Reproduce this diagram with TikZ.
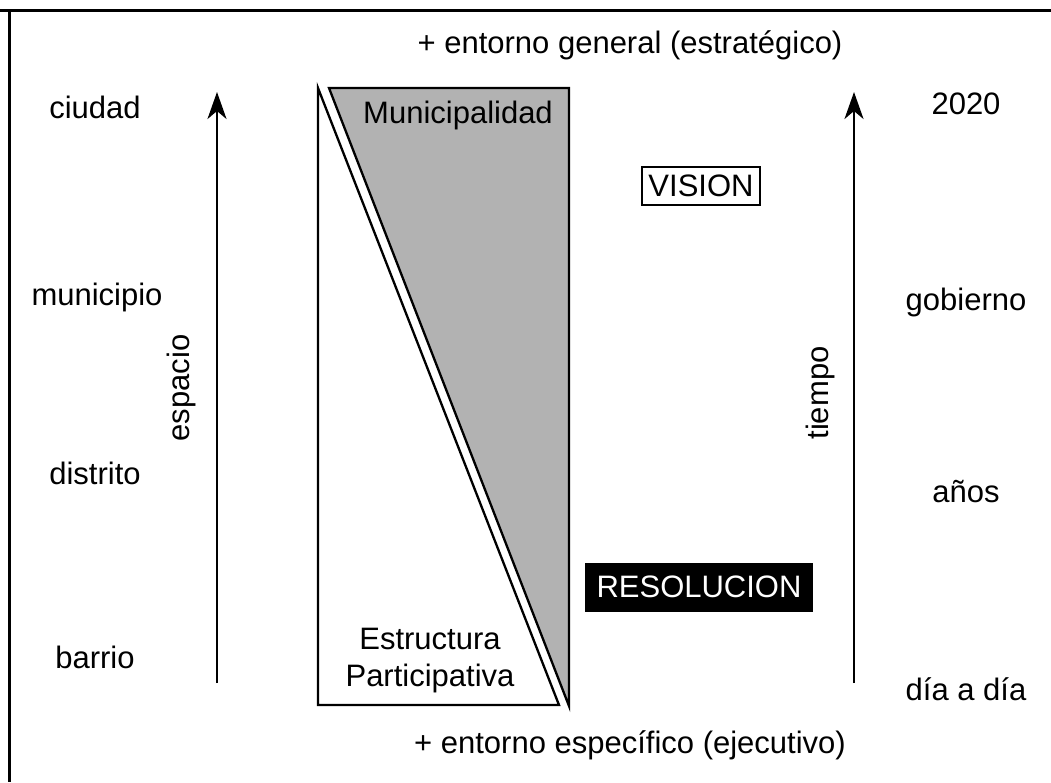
\documentclass[tikz,border=0pt]{standalone}
\usepackage{fontspec}
\setmainfont{Liberation Sans}
\usetikzlibrary{arrows.meta}
\begin{document}
\begin{tikzpicture}[x=1pt,y=-1pt,
  lbl/.style={font=\fontsize{31}{36}\selectfont, inner sep=0pt},
  axis/.style={line width=2.5pt, -{Stealth[length=27pt,width=19pt,inset=8pt]}},
  polyshape/.style={line width=2.3pt, line join=miter}]
\useasboundingbox (0,0) rectangle (1051,782);
% frame
\coordinate (f1) at (0,10);
\coordinate (f2) at (1051,10);
\coordinate (f3) at (9,10);
\coordinate (f4) at (9,782);
\draw[line width=3pt] (f1) -- (f2);
\draw[line width=3pt] (f3) -- (f4);
% shapes
\draw[polyshape, fill=white] (318,88) -- (318,705) -- (559,705) -- cycle;
\draw[polyshape, fill={rgb,255:red,178;green,178;blue,178}] (329,88) -- (569,88) -- (569,706) -- cycle;
% axes
\coordinate (l0) at (217,683);
\coordinate (l1) at (217,92);
\coordinate (r0) at (854,683);
\coordinate (r1) at (854,92);
\draw[axis] (l0) -- (l1);
\draw[axis] (r0) -- (r1);
% left labels
\node[lbl] (ciudad) at (95,107) {ciudad};
\node[lbl] (municipio) at (97,297) {municipio};
\node[lbl] (distrito) at (95,473) {distrito};
\node[lbl] (barrio) at (95,657) {barrio};
\node[lbl, rotate=90] (espacio) at (181,388) {espacio};
% right labels
\node[lbl] (y2020) at (966,104) {2020};
\node[lbl] (gobierno) at (966,302) {gobierno};
\node[lbl] (anos) at (966,492) {años};
\node[lbl] (dia) at (966,689) {día a día};
\node[lbl, rotate=90] (tiempo) at (820,393) {tiempo};
% top & bottom
\node[lbl] (top) at (630,45) {+ entorno general (estratégico)};
\node[lbl] (bot) at (630,745) {+ entorno específico (ejecutivo)};
% inside
\node[lbl] (muni) at (458,115) {Municipalidad};
\node[lbl, align=center, font=\fontsize{31}{37}\selectfont] (estr) at (430,661) {Estructura\\Participativa};
% boxes
\node[lbl, draw, line width=2pt, minimum width=118pt, minimum height=38pt] (vision) at (701,186) {VISION};
\node[lbl, fill=black, text=white, minimum width=228pt, minimum height=49pt] (resol) at (699,587) {RESOLUCION};
\end{tikzpicture}
\end{document}
